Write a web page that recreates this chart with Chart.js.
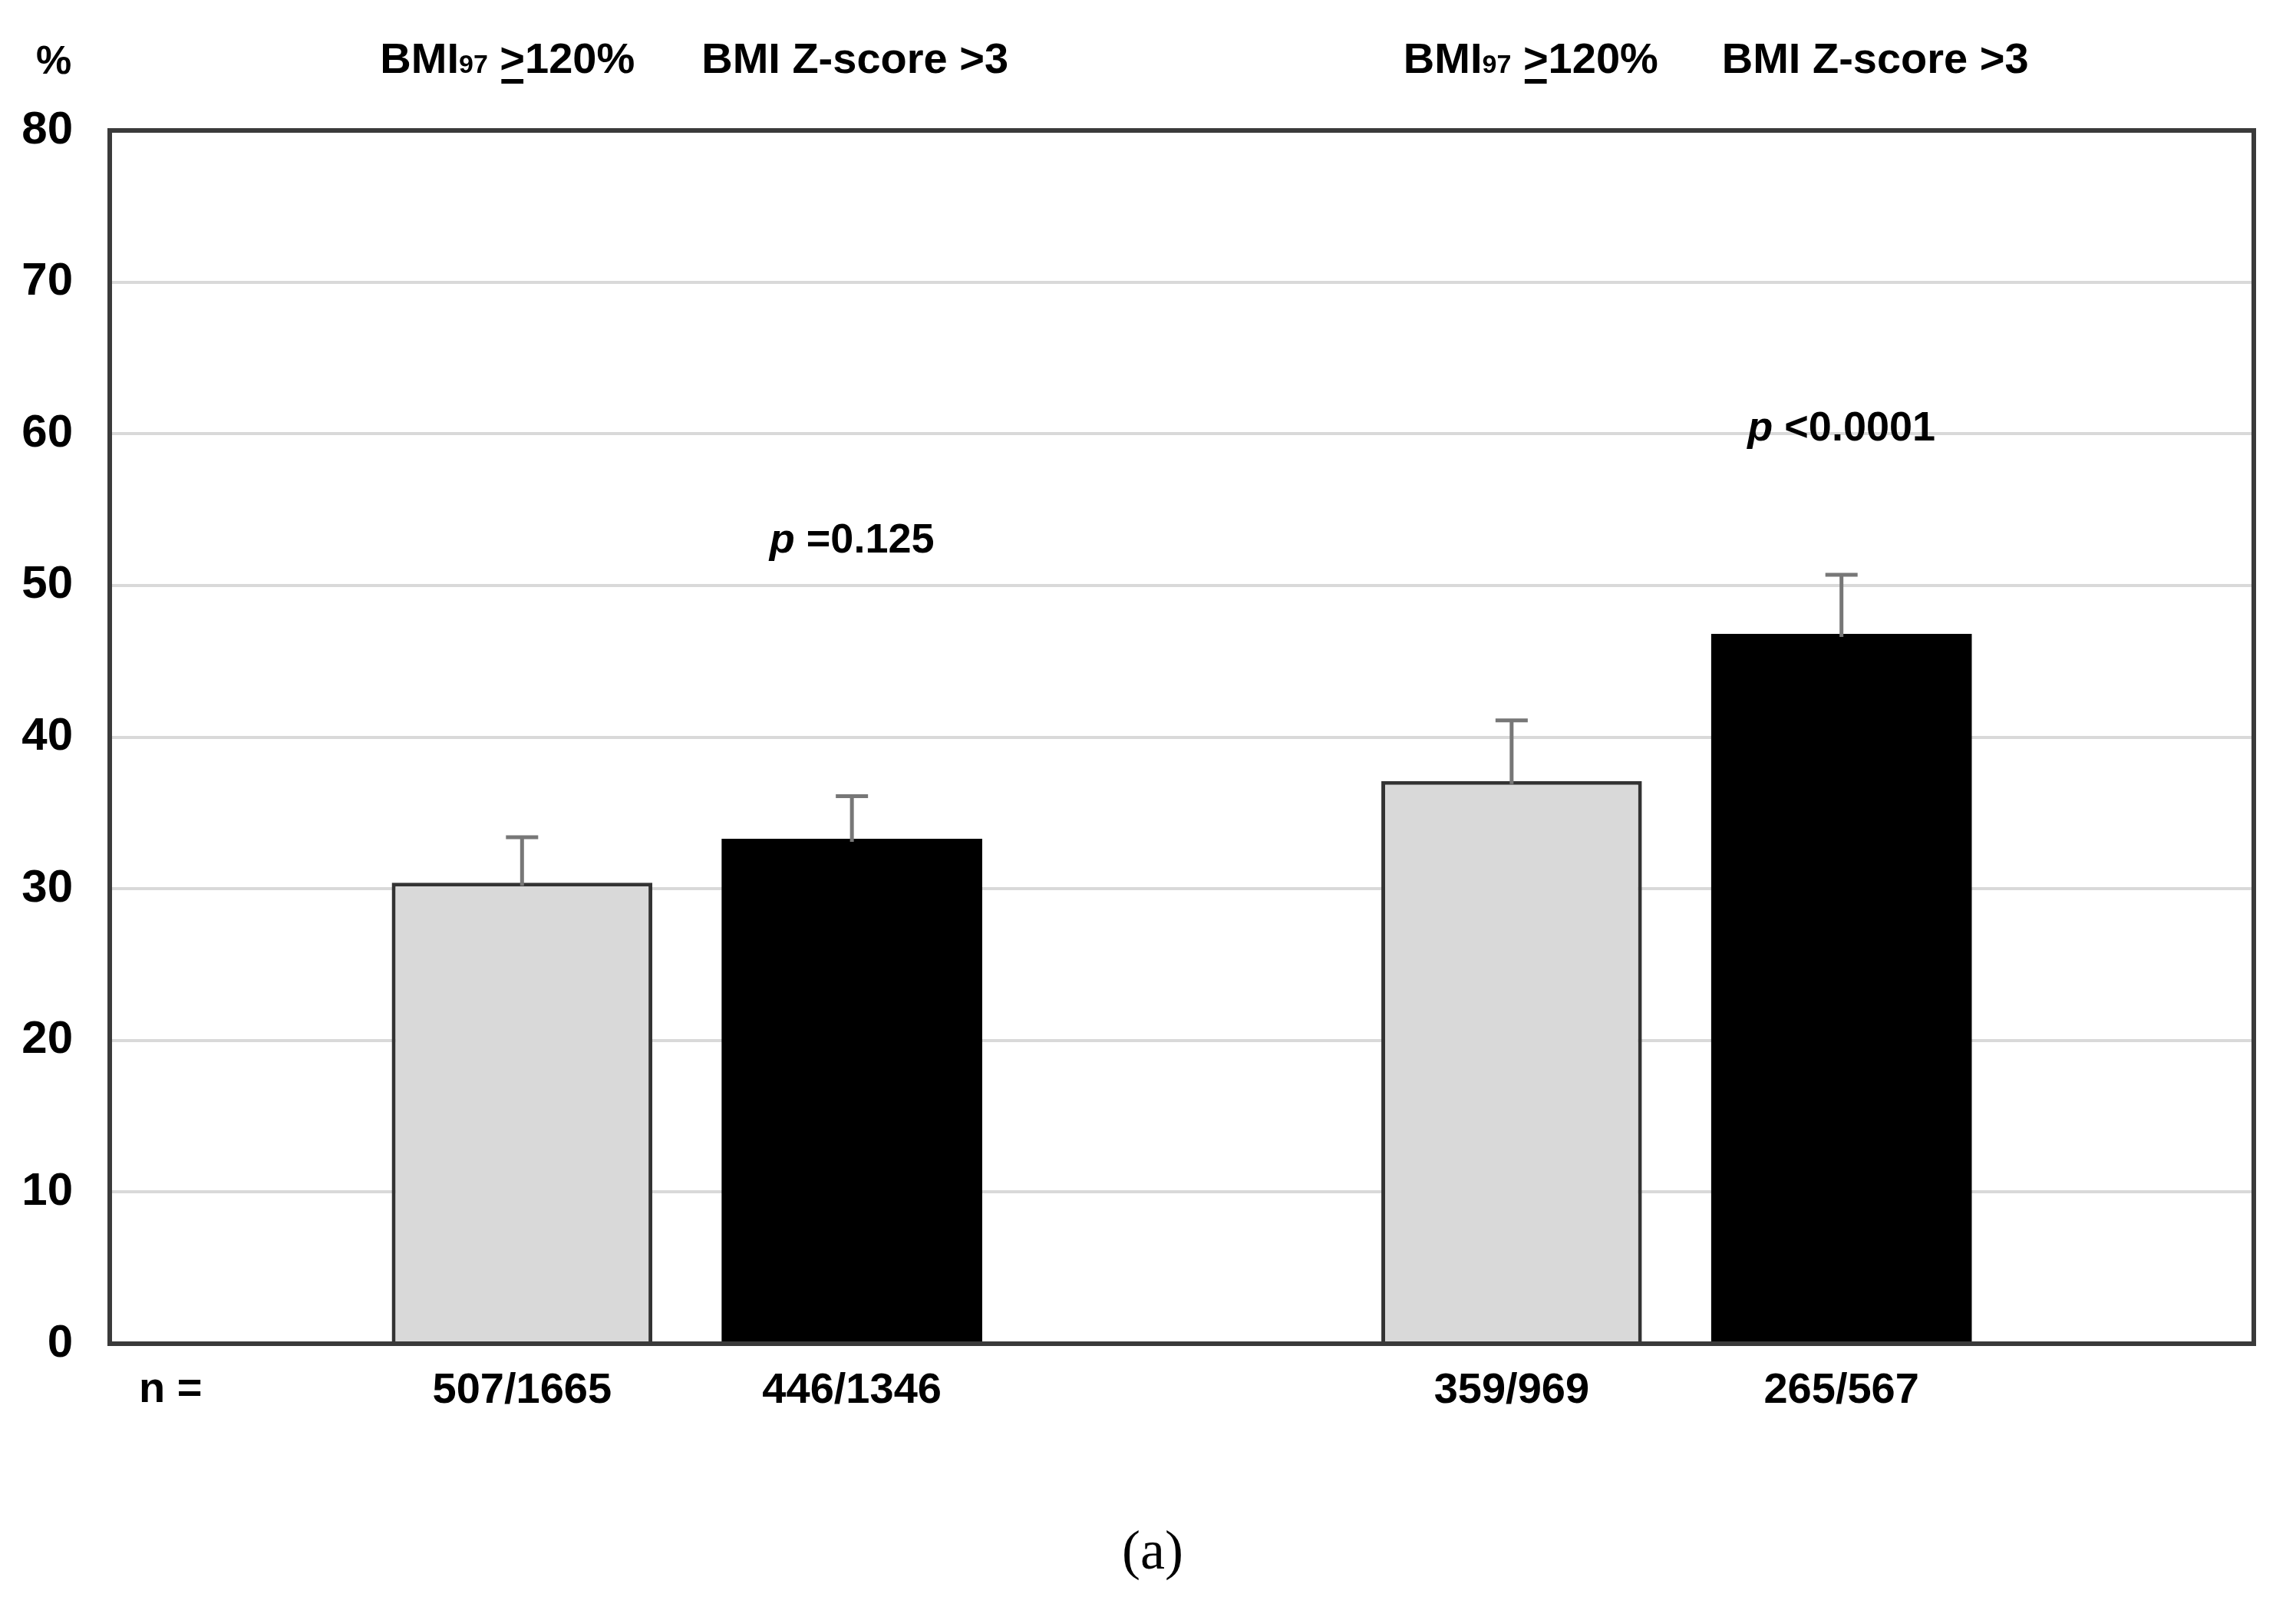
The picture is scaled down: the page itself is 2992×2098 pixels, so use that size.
<!DOCTYPE html>
<html>
<head>
<meta charset="utf-8">
<script src="https://cdn.jsdelivr.net/npm/chart.js"></script>
<style>
  html, body { margin: 0; padding: 0; background: #fff; }
  .container { width: 2992px; height: 2098px; position: relative; }
</style>
</head>
<body>
<div class="container"><canvas id="myChart"></canvas></div>
<script>
// 13 slots along x: two groups of two bars with empty slots between
const nLabels = ["", "", "507/1665", "", "446/1346", "", "", "", "359/969", "", "265/567", "", ""];
const headerLabels = ["", "", "BMI97 >120%", "", "BMI Z-score >3", "", "", "", "BMI97 >120%", "", "BMI Z-score >3", "", ""];
const barValues = [null, null, 30.4, null, 33.3, null, null, null, 37.1, null, 46.8, null, null];
const errUpper = [null, null, 3.0, null, 2.8, null, null, null, 4.0, null, 3.9, null, null];

// p-values shown above the second bar of each group
const pIndex = [4, 10];
const pText = ["=0.125", "<0.0001"];
const pLevel = [52.9, 60.3];

const yMin = 0;
const yMax = 80;
const yStep = 10;

const FONT = "'Liberation Sans', Arial, sans-serif";

// small horizontal nudges of the header texts (px)
const headerShift = [0, 0, -19, 0, 4, 0, 0, 0, 25, 0, 44, 0, 0];

function isZscore(i) {
  return headerLabels[i].indexOf("Z-score") >= 0;
}

// draw header like "BMI97 >120%" with subscript 97 and underlined >
function drawHeader(ctx, label, cx, baseline) {
  let parts;
  const m = label.match(/^BMI97 >(.*)$/);
  if (m) {
    parts = [
      { t: "BMI", size: 56 },
      { t: "97", size: 34 },
      { t: " ", size: 56 },
      { t: ">", size: 56, under: true },
      { t: m[1], size: 56 },
    ];
  } else {
    parts = [{ t: label, size: 56 }];
  }
  let total = 0;
  parts.forEach((p) => {
    ctx.font = "bold " + p.size + "px " + FONT;
    p.w = ctx.measureText(p.t).width;
    total += p.w;
  });
  let x = cx - total / 2;
  ctx.textAlign = "left";
  ctx.textBaseline = "alphabetic";
  parts.forEach((p) => {
    ctx.font = "bold " + p.size + "px " + FONT;
    ctx.fillText(p.t, x, baseline);
    if (p.under) {
      ctx.fillRect(x + 2, baseline + 8, p.w - 4, 6);
    }
    x += p.w;
  });
}

const annotations = {
  id: "annotations",
  afterDatasetsDraw(chart) {
    const ctx = chart.ctx;
    const y = chart.scales.y;
    const meta = chart.getDatasetMeta(0);
    ctx.save();
    ctx.strokeStyle = "#777777";
    ctx.lineWidth = 5;
    errUpper.forEach((e, i) => {
      if (e === null || barValues[i] === null) return;
      const x = meta.data[i].x;
      const y0 = y.getPixelForValue(barValues[i]);
      const y1 = y.getPixelForValue(barValues[i] + e);
      ctx.beginPath();
      ctx.moveTo(x, y0 + 4);
      ctx.lineTo(x, y1);
      ctx.moveTo(x - 21, y1);
      ctx.lineTo(x + 21, y1);
      ctx.stroke();
    });
    ctx.restore();
  },
  afterDraw(chart) {
    const ctx = chart.ctx;
    const area = chart.chartArea;
    const x = chart.scales.x;
    const y = chart.scales.y;
    ctx.save();

    // box around plot area
    ctx.strokeStyle = "#3a3a3a";
    ctx.lineWidth = 6;
    ctx.strokeRect(area.left, area.top, area.right - area.left, area.bottom - area.top);

    ctx.fillStyle = "#000";
    // "%" unit label
    ctx.font = "bold 52px " + FONT;
    ctx.textAlign = "center";
    ctx.textBaseline = "alphabetic";
    ctx.fillText("%", 70, 96);

    // headers above bars
    headerLabels.forEach((h, i) => {
      if (!h) return;
      drawHeader(ctx, h, x.getPixelForValue(i) + headerShift[i], 95);
    });

    // "n =" row title
    ctx.font = "bold 56px " + FONT;
    ctx.textAlign = "left";
    ctx.textBaseline = "middle";
    ctx.fillText("n =", area.left + 38, 1812);

    // p-values
    pIndex.forEach((idx, k) => {
      const cx = x.getPixelForValue(idx);
      const cy = y.getPixelForValue(pLevel[k]);
      ctx.font = "italic bold 54px " + FONT;
      const wp = ctx.measureText("p ").width;
      ctx.font = "bold 54px " + FONT;
      const wt = ctx.measureText(pText[k]).width;
      let sx = cx - (wp + wt) / 2;
      ctx.textAlign = "left";
      ctx.textBaseline = "middle";
      ctx.font = "italic bold 54px " + FONT;
      ctx.fillText("p ", sx, cy);
      ctx.font = "bold 54px " + FONT;
      ctx.fillText(pText[k], sx + wp, cy);
    });

    // panel label
    ctx.font = "72px 'Liberation Serif', 'Times New Roman', serif";
    ctx.textAlign = "center";
    ctx.textBaseline = "middle";
    ctx.fillText("(a)", 1502, 2025);
    ctx.restore();
  },
};

const ctx = document.getElementById("myChart");
new Chart(ctx, {
  type: "bar",
  data: {
    labels: nLabels,
    datasets: [
      {
        data: barValues,
        backgroundColor: (c) => (isZscore(c.dataIndex) ? "#000000" : "#d9d9d9"),
        borderColor: (c) => (isZscore(c.dataIndex) ? "#000000" : "#333333"),
        borderWidth: (c) => (isZscore(c.dataIndex) ? 0 : 5),
        categoryPercentage: 1,
        barPercentage: 1.58,
      },
    ],
  },
  options: {
    responsive: true,
    maintainAspectRatio: false,
    devicePixelRatio: 1,
    animation: false,
    layout: { padding: { top: 170, right: 55, left: 0, bottom: 0 } },
    plugins: {
      legend: { display: false },
      tooltip: { enabled: false },
    },
    scales: {
      x: {
        grid: { display: false, drawTicks: false },
        border: { display: false },
        ticks: {
          autoSkip: false,
          maxRotation: 0,
          padding: 28,
          color: "#000",
          font: { family: FONT, size: 56, weight: "bold" },
        },
        afterFit: (s) => { s.height = 347; },
      },
      y: {
        min: yMin,
        max: yMax,
        grid: { color: "#d9d9d9", lineWidth: 4, drawTicks: false },
        border: { display: false },
        ticks: {
          stepSize: yStep,
          padding: 48,
          color: "#000",
          font: { family: FONT, size: 60, weight: "bold" },
        },
        afterFit: (s) => { s.width = 143; },
      },
    },
  },
  plugins: [annotations],
});
</script>
</body>
</html>
